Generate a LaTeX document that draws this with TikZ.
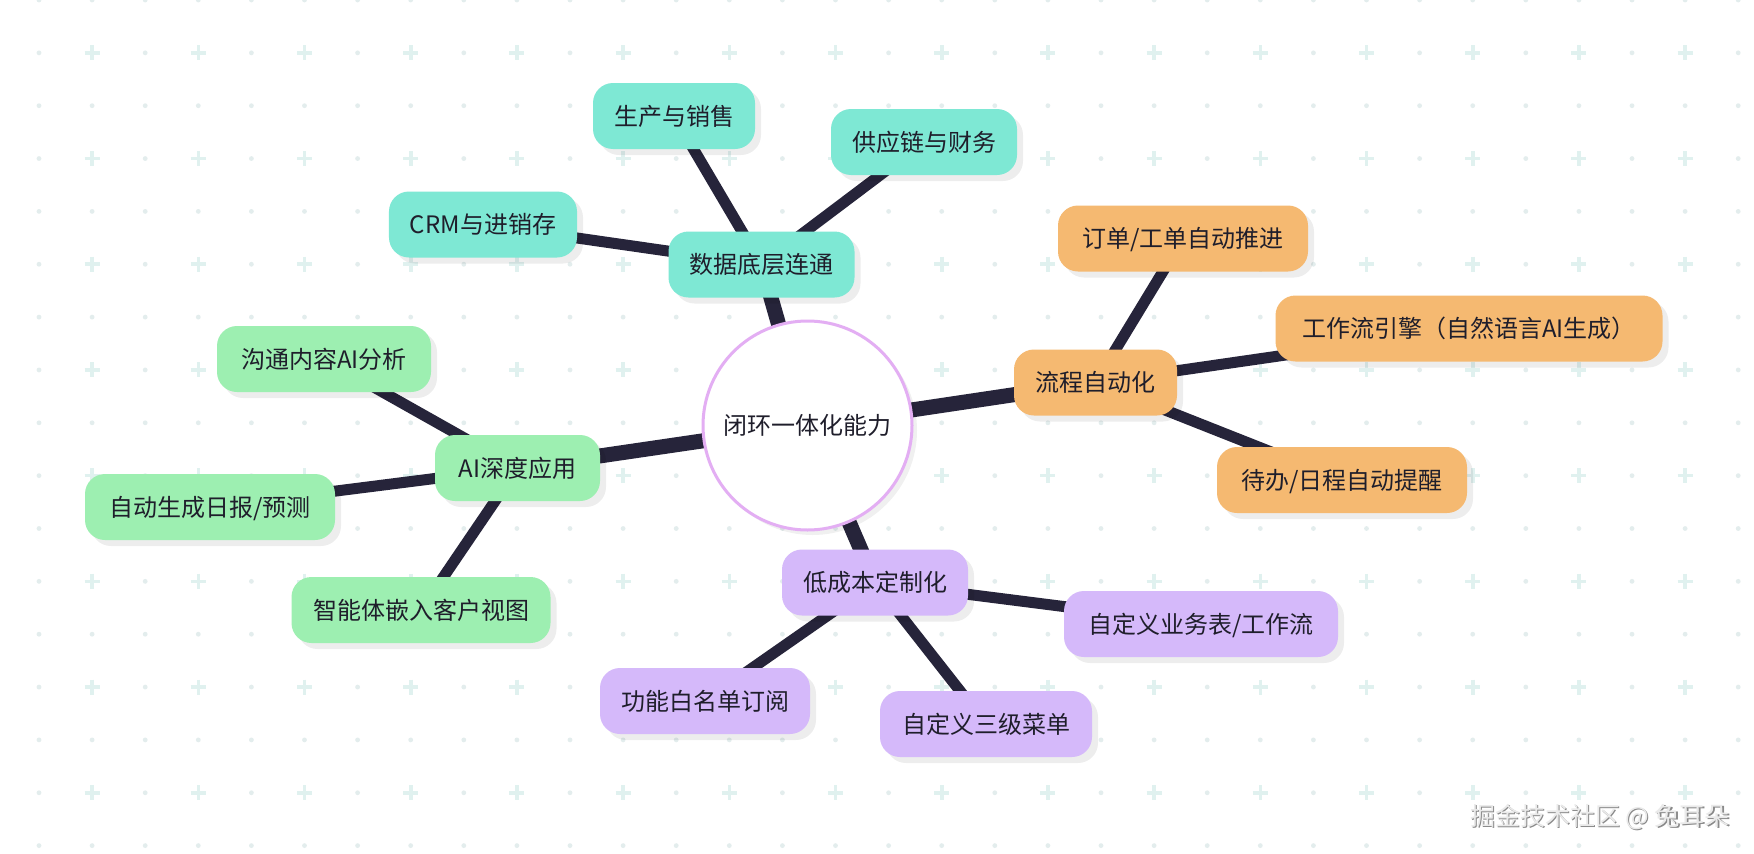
\documentclass[tikz,border=0pt]{standalone}
\usepackage{fontspec}
\setmainfont{Noto Sans CJK SC}
\usetikzlibrary{shadows}
\definecolor{cTeal}{HTML}{7EE8D4}
\definecolor{cOrange}{HTML}{F5B971}
\definecolor{cGreen}{HTML}{9DEFB1}
\definecolor{cPurple}{HTML}{D5B9FA}
\definecolor{cEdge}{HTML}{26243A}
\definecolor{cText}{HTML}{1F1E2B}
\definecolor{cRing}{HTML}{E3AEF3}
\definecolor{cDot}{HTML}{E3EDED}
\definecolor{cPlus}{HTML}{E0F1EF}
\definecolor{cMarkA}{HTML}{EAEAEA}
\definecolor{cMarkB}{HTML}{8A8A8A}
\pgfdeclarelayer{bg}
\pgfsetlayers{bg,main}
\begin{document}
\begin{tikzpicture}[x=1pt,y=-1pt,
  box/.style={rounded corners=20pt, minimum height=66pt, inner xsep=21pt,
    text height=20pt, text depth=2pt,
    font=\fontsize{24}{28}\selectfont, text=cText,
    drop shadow={shadow xshift=6pt, shadow yshift=-6pt, fill=black, opacity=0.07}},
  hub/.style={circle, minimum size=209pt, fill=white, draw=cRing, line width=3pt,
    text height=20pt, text depth=2pt,
    font=\fontsize{24}{28}\selectfont, text=cText,
    drop shadow={shadow xshift=5pt, shadow yshift=-5pt, fill=black, opacity=0.06}},
  mainedge/.style={draw=cEdge, line width=15pt},
  subedge/.style={draw=cEdge, line width=11pt},
  plusmark/.style={draw=cPlus, line width=3.6pt},
  markfont/.style={font=\fontsize{25}{28}\selectfont, inner sep=0pt}
]
\useasboundingbox (0,0) rectangle (1754,854);
% background grid
\begin{pgfonlayer}{bg}
\fill[white] (0,0) rectangle (1754,854);
\foreach \j in {0,...,16}{\foreach \i in {0,...,32}{%
  \pgfmathsetmacro\xx{39+53.1*\i}%
  \pgfmathsetmacro\yy{52.85*\j}%
  \pgfmathtruncatemacro\pp{and(mod(\i,2)==1,mod(\j,2)==1)}%
  \ifnum\pp=1
    \draw[plusmark] (\xx-7.5,\yy) -- (\xx+7.5,\yy) (\xx,\yy-7.5) -- (\xx,\yy+7.5);
  \else
    \fill[cDot] (\xx,\yy) circle (2.4);
  \fi
}}
\end{pgfonlayer}

% hub
\node[hub] (c) at (807.5,425.5) {闭环一体化能力};

% level 1
\node[box, fill=cTeal,   minimum width=185pt] (d) at (761.5,264.5) {数据底层连通};
\node[box, fill=cOrange, minimum width=163pt] (p) at (1095.5,382.5) {流程自动化};
\node[box, fill=cGreen,  minimum width=165pt] (a) at (517.5,468) {AI深度应用};
\node[box, fill=cPurple, minimum width=186pt] (l) at (875,582.5) {低成本定制化};

% level 2
\node[box, fill=cTeal, minimum width=162pt] (d1) at (674,116) {生产与销售};
\node[box, fill=cTeal, minimum width=186pt] (d2) at (924,142) {供应链与财务};
\node[box, fill=cTeal, minimum width=186pt] (d3) at (483,224.5) {CRM与进销存};

\node[box, fill=cOrange, minimum width=250pt] (p1) at (1183,238.5) {订单/工单自动推进};
\node[box, fill=cOrange, minimum width=387pt] (p2) at (1469,328.5) {工作流引擎（自然语言AI生成）};
\node[box, fill=cOrange, minimum width=250pt] (p3) at (1342,480) {待办/日程自动提醒};

\node[box, fill=cGreen, minimum width=214pt] (a1) at (324,359) {沟通内容AI分析};
\node[box, fill=cGreen, minimum width=250pt] (a2) at (210,507) {自动生成日报/预测};
\node[box, fill=cGreen, minimum width=259pt] (a3) at (421,610) {智能体嵌入客户视图};

\node[box, fill=cPurple, minimum width=274pt] (l1) at (1201,624) {自定义业务表/工作流};
\node[box, fill=cPurple, minimum width=210pt] (l2) at (705,701) {功能白名单订阅};
\node[box, fill=cPurple, minimum width=212pt] (l3) at (986,724) {自定义三级菜单};

% connectors
\begin{pgfonlayer}{bg}
\draw[mainedge] (c.center) -- (d.center);
\draw[mainedge] (c.center) -- (p.center);
\draw[mainedge] (c.center) -- (a.center);
\draw[mainedge] (c.center) -- (l.center);
\draw[subedge] (d.center) -- (d1.center);
\draw[subedge] (d.center) -- (d2.center);
\draw[subedge] (d.center) -- (d3.center);
\draw[subedge] (p.center) -- (p1.center);
\draw[subedge] (p.center) -- (p2.center);
\draw[subedge] (p.center) -- (p3.center);
\draw[subedge] (a.center) -- (a1.center);
\draw[subedge] (a.center) -- (a2.center);
\draw[subedge] (a.center) -- (a3.center);
\draw[subedge] (l.center) -- (l1.center);
\draw[subedge] (l.center) -- (l2.center);
\draw[subedge] (l.center) -- (l3.center);
\end{pgfonlayer}

% watermark
\node[markfont, text=cMarkB] (wms) at (1601.3,818.3) {掘金技术社区 @ 兔耳朵};
\node[markfont, text=cMarkA] (wm) at (1600,817) {掘金技术社区 @ 兔耳朵};
\end{tikzpicture}
\end{document}
